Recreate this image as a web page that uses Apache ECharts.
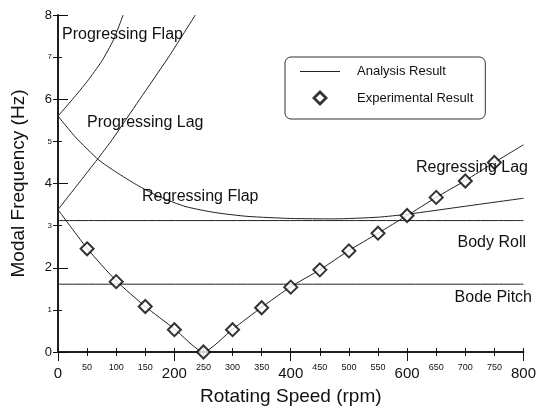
<!DOCTYPE html>
<html>
<head>
<meta charset="utf-8">
<script src="https://cdn.jsdelivr.net/npm/echarts@6/dist/echarts.min.js"></script>
<style>
  html, body { margin: 0; padding: 0; background: #fff; }
  #chart { width: 539px; height: 412px; }
</style>
</head>
<body>
<div id="chart"></div>
<script>
// Rotor modal frequencies versus rotating speed
const FONT = '"Liberation Sans", Arial, sans-serif';

// Analysis curves: [rpm, Hz]
const progressingFlap = [[0, 5.6], [25, 6.0], [50, 6.42], [75, 6.9], [95, 7.4], [112, 8.0]];
const progressingLag = [[0, 3.38], [68, 4.58], [93, 5.04], [140, 5.99], [190, 7.0], [236, 8.0]];
const regressingFlap = [[0, 5.6], [30, 5.1], [70, 4.56], [100, 4.27], [135, 3.97], [175, 3.68],
  [220, 3.45], [270, 3.31], [325, 3.22], [400, 3.17], [475, 3.16], [550, 3.2], [600, 3.27],
  [700, 3.46], [800, 3.65]];
const regressingLag = [[0, 3.38], [50, 2.46], [100, 1.69], [150, 1.08], [200, 0.55], [250, 0],
  [300, 0.54], [350, 1.06], [400, 1.55], [450, 1.95], [500, 2.41], [550, 2.82], [600, 3.24],
  [650, 3.67], [700, 4.07], [750, 4.5], [800, 4.92]];
const bodyRoll = [[0, 3.12], [800, 3.12]];
const bodePitch = [[0, 1.61], [800, 1.61]];

// Experimental measurements
const expRpm = [50, 100, 150, 200, 250, 300, 350, 400, 450, 500, 550, 600, 650, 700, 750];
const expFreq = [2.45, 1.67, 1.08, 0.53, 0, 0.53, 1.05, 1.54, 1.95, 2.4, 2.82, 3.24, 3.67, 4.06, 4.5];

// Mode names drawn beside the curves
const modeLabels = ['Progressing Flap', 'Progressing Lag', 'Regressing Flap', 'Regressing Lag', 'Body Roll', 'Bode Pitch'];

const chart = echarts.init(document.getElementById('chart'), null, { renderer: 'canvas' });

const lineColor = '#222';
function analysis(data) {
  return {
    type: 'line', name: 'Analysis Result', data: data,
    xAxisIndex: 0, yAxisIndex: 0,
    showSymbol: false, symbol: 'none', smooth: 0.2,
    lineStyle: { color: lineColor, width: 1 },
    itemStyle: { color: lineColor },
    clip: true, silent: true, z: 2
  };
}

function modeText(text, x, y, align) {
  return {
    type: 'text', x: x, y: y, z: 10,
    style: { text: text, font: '16px ' + FONT, fill: '#111', align: align, verticalAlign: 'middle' }
  };
}

const axisLine = { show: true, lineStyle: { color: '#111', width: 1.5 } };

// legend glyphs: a thin rule and a hollow diamond
const ruleIcon = 'path://M0,0 H40 V1.2 H0 Z';
const diamondIcon = 'path://M7,0 L14,7 L7,14 L0,7 Z M7,3.4 L3.4,7 L7,10.6 L10.6,7 Z';

chart.setOption({
  animation: false,
  backgroundColor: '#fff',
  grid: { left: 58, right: 4, top: 15, bottom: 60, containLabel: false },
  legend: {
    data: [
      { name: 'Analysis Result', icon: ruleIcon },
      { name: 'Experimental Result', icon: diamondIcon }
    ],
    orient: 'vertical',
    left: 285, top: 57,
    padding: [8, 12, 13, 15],
    itemWidth: 40, itemHeight: 16, itemGap: 12,
    symbolKeepAspect: true,
    borderColor: '#333', borderWidth: 1, borderRadius: 6,
    textStyle: { fontFamily: FONT, fontSize: 13, color: '#111', padding: [0, 0, 0, 12] }
  },
  xAxis: [
    {
      type: 'value', position: 'bottom', min: 0, max: 800, interval: 50,
      name: 'Rotating Speed (rpm)', nameLocation: 'middle', nameGap: 35,
      nameTextStyle: { fontFamily: FONT, fontSize: 19, color: '#111' },
      axisLine: axisLine,
      axisTick: { show: true, inside: true, length: 4, lineStyle: { color: '#111' } },
      splitLine: { show: false },
      axisLabel: {
        margin: 11, showMaxLabel: true, alignMaxLabel: 'center',
        formatter: v => (v % 200 === 0 ? '{big|' + v + '}' : '{small|' + v + '}'),
        rich: {
          big: { fontFamily: FONT, fontSize: 15, lineHeight: 16, padding: [5, 0, 0, 0], color: '#111' },
          small: { fontFamily: FONT, fontSize: 9, lineHeight: 10, color: '#111' }
        }
      }
    },
    {
      type: 'value', position: 'bottom', min: 0, max: 800, interval: 200,
      axisLine: { show: false }, axisLabel: { show: false }, splitLine: { show: false },
      axisTick: { show: true, inside: false, length: 9, lineStyle: { color: '#111' } }
    },
    {
      type: 'value', position: 'top', min: 0, max: 800, interval: 50,
      axisLine: axisLine, axisLabel: { show: false }, splitLine: { show: false },
      axisTick: { show: true, inside: true, length: 4, lineStyle: { color: '#111' } }
    }
  ],
  yAxis: [
    {
      type: 'value', position: 'left', min: 0, max: 8, interval: 1,
      name: 'Modal Frequency (Hz)', nameLocation: 'middle', nameGap: 30, nameRotate: 90,
      nameTextStyle: { fontFamily: FONT, fontSize: 19, color: '#111' },
      axisLine: axisLine,
      axisTick: { show: true, inside: true, length: 4, lineStyle: { color: '#111' } },
      splitLine: { show: false },
      axisLabel: {
        margin: 6,
        formatter: v => (v % 2 === 0 ? '{big|' + v + '}' : '{small|' + v + '}'),
        rich: {
          big: { fontFamily: FONT, fontSize: 13, color: '#111' },
          small: { fontFamily: FONT, fontSize: 8, color: '#111' }
        }
      }
    },
    {
      type: 'value', position: 'left', min: 0, max: 8, interval: 2,
      axisLine: { show: false }, axisLabel: { show: false }, splitLine: { show: false },
      axisTick: { show: true, inside: true, length: 10, lineStyle: { color: '#111' } }
    },
    {
      type: 'value', position: 'right', min: 0, max: 8, interval: 1,
      axisLine: axisLine, axisLabel: { show: false }, splitLine: { show: false },
      axisTick: { show: true, inside: true, length: 5, lineStyle: { color: '#111' } }
    }
  ],
  series: [
    analysis(progressingFlap),
    analysis(progressingLag),
    analysis(regressingFlap),
    analysis(regressingLag),
    analysis(bodyRoll),
    analysis(bodePitch),
    {
      type: 'scatter', name: 'Experimental Result',
      xAxisIndex: 0, yAxisIndex: 0,
      data: expRpm.map((r, i) => [r, expFreq[i]]),
      symbol: 'emptyDiamond', symbolSize: 13,
      itemStyle: { color: '#000', borderWidth: 2.6 },
      clip: false, z: 5
    }
  ],
  graphic: [
    modeText(modeLabels[0], 62, 35, 'left'),
    modeText(modeLabels[1], 87, 123, 'left'),
    modeText(modeLabels[2], 142, 197, 'left'),
    modeText(modeLabels[3], 528, 168, 'right'),
    modeText(modeLabels[4], 526, 243, 'right'),
    modeText(modeLabels[5], 532, 298, 'right')
  ]
});
</script>
</body>
</html>
